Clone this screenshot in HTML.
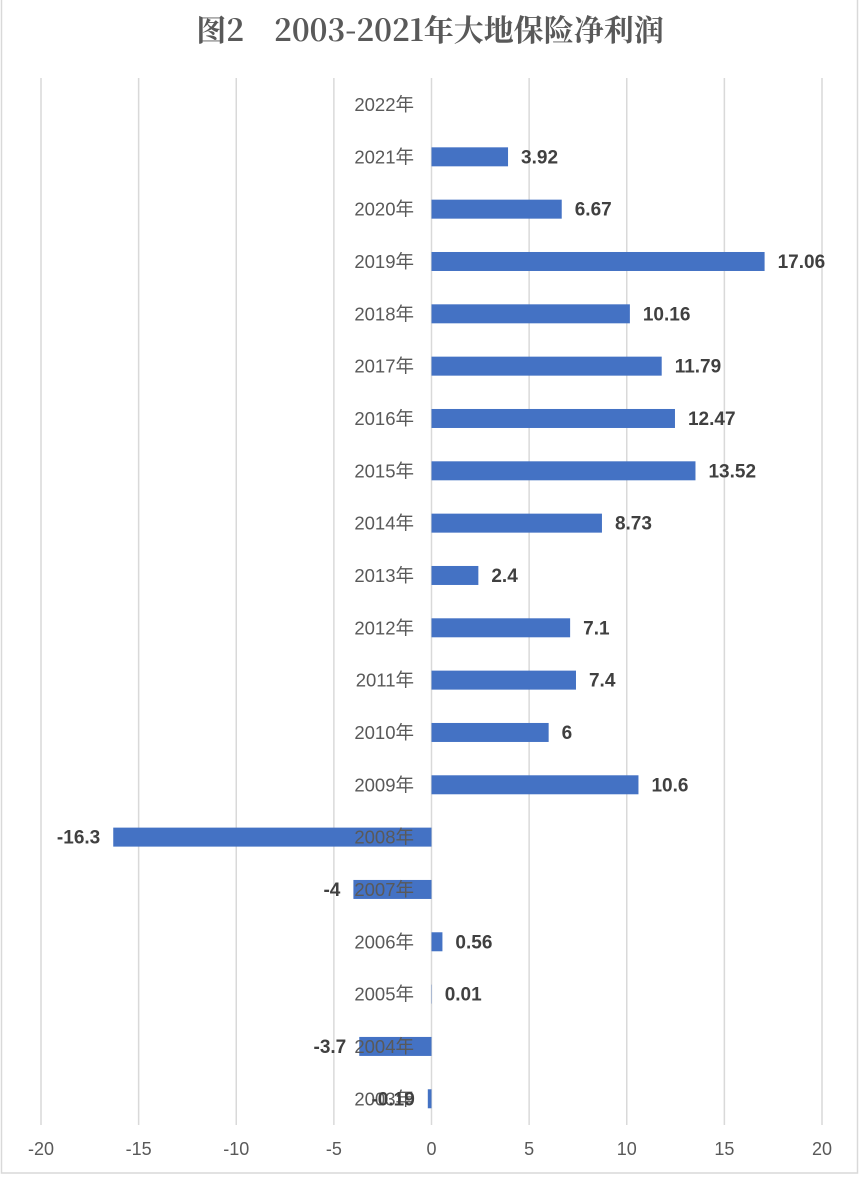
<!DOCTYPE html>
<html><head><meta charset="utf-8"><style>
body{margin:0;background:#fff;width:864px;height:1186px;overflow:hidden}
svg text{font-family:"Liberation Sans","Noto Sans CJK SC",sans-serif}
</style></head><body>
<svg id="chart" width="864" height="1186" xmlns="http://www.w3.org/2000/svg">
<rect x="1.5" y="-2" width="856" height="1175" fill="#fff" stroke="#d9d9d9" stroke-width="1.5"/>
<text x="430" y="41" text-anchor="middle" font-size="30" font-weight="bold" fill="#595959" style="font-family:'Noto Serif CJK SC','Liberation Serif',serif">图2　2003-2021年大地保险净利润</text>
<g id="grid"></g><g id="bars"></g><g id="labels"></g>
</svg>
<script>
const categories=["2022年","2021年","2020年","2019年","2018年","2017年","2016年","2015年","2014年","2013年","2012年","2011年","2010年","2009年","2008年","2007年","2006年","2005年","2004年","2003年"];
const values=[null,3.92,6.67,17.06,10.16,11.79,12.47,13.52,8.73,2.4,7.1,7.4,6,10.6,-16.3,-4,0.56,0.01,-3.7,-0.19];
const valueLabels=["","3.92","6.67","17.06","10.16","11.79","12.47","13.52","8.73","2.4","7.1","7.4","6","10.6","-16.3","-4","0.56","0.01","-3.7","-0.19"];
const ticks=[-20,-15,-10,-5,0,5,10,15,20];
const NS="http://www.w3.org/2000/svg";
const x=v=>431.5+v*(822-41)/40;
const y=i=>104.5+i*52.33;
function mk(tag,attrs,parent){const e=document.createElementNS(NS,tag);for(const k in attrs)e.setAttribute(k,attrs[k]);document.getElementById(parent).appendChild(e);return e;}
ticks.forEach(t=>{
 const l=mk('line',{x1:x(t),x2:x(t),y1:78,y2:1125,stroke:'#d9d9d9','stroke-width':1.5},'grid');
 
 
 const tx=mk('text',{x:x(t),y:1155,'text-anchor':'middle','font-size':18,fill:'#595959'},'grid');
 tx.textContent=String(t);
 
 
});
values.forEach((v,i)=>{
 if(v!==null){
  const x0=Math.min(x(0),x(v)),w=Math.max(Math.abs(x(v)-x(0)),0.3);
  const r=mk('rect',{x:x0,y:y(i)-9.5,width:w,height:19,fill:'#4472c4'},'bars');
  
  
 }
 const c=mk('text',{x:414,y:y(i)+6.5,'text-anchor':'end','font-size':18.5,fill:'#595959'},'labels');
 c.textContent=categories[i];
 
 
 if(v!==null){
  const neg=v<0;
  const vl=mk('text',{x:neg?x(v)-13:x(v)+13,y:y(i)+6.5,'text-anchor':neg?'end':'start','font-size':19,'font-weight':'bold',fill:'#404040'},'labels');
  vl.textContent=valueLabels[i];
  
  
 }
});
</script>
</body></html>
